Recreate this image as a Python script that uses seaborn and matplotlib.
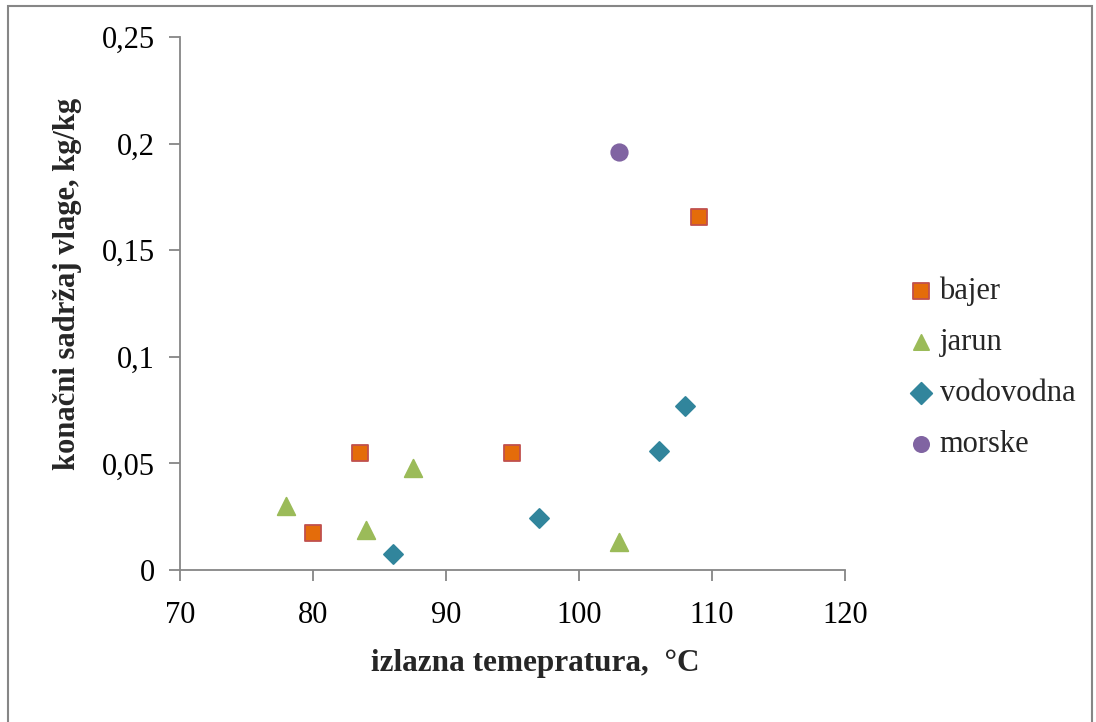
import matplotlib
matplotlib.use("Agg")
import matplotlib.pyplot as plt
import seaborn as sns
import pandas as pd
from matplotlib.patches import Rectangle

# values
bajer_x = [80, 83.5, 95, 109]
bajer_y = [0.0175, 0.055, 0.055, 0.1655]
jarun_x = [78, 84, 87.5, 103]
jarun_y = [0.030, 0.019, 0.048, 0.013]
vodovodna_x = [86, 97, 106, 108]
vodovodna_y = [0.0075, 0.0245, 0.0558, 0.0768]
morske_x = [103]
morske_y = [0.1962]

series = ["bajer", "jarun", "vodovodna", "morske"]
xs = [bajer_x, jarun_x, vodovodna_x, morske_x]
ys = [bajer_y, jarun_y, vodovodna_y, morske_y]

rows = []
for name, sx, sy in zip(series, xs, ys):
    for a, b in zip(sx, sy):
        rows.append({"temp": a, "vlaga": b, "uzorak": name})
data = pd.DataFrame(rows)

colors = {"bajer": "#E46C0A", "jarun": "#9BBB59", "vodovodna": "#31859C", "morske": "#8064A2"}
markers = {"bajer": "s", "jarun": "^", "vodovodna": "D", "morske": "o"}
edges = {"bajer": "#C0504D", "jarun": "#9BBB59", "vodovodna": "#31859C", "morske": "#8064A2"}
sizes = {"bajer": 120, "jarun": 160, "vodovodna": 95, "morske": 140}

sns.set_style("white")
plt.rcParams["font.family"] = ["Liberation Serif", "DejaVu Serif"]

fig = plt.figure(figsize=(10.96, 7.22), dpi=100)
ax = fig.add_axes([0.1642, 0.2105, 0.6068, 0.7383])

for name in series:
    sub = data[data["uzorak"] == name]
    sns.scatterplot(data=sub, x="temp", y="vlaga", marker=markers[name], color=colors[name],
                    edgecolor=edges[name], linewidth=1.3, s=sizes[name], label=name, ax=ax, zorder=3)

ax.set_xlim(70, 120)
ax.set_ylim(0, 0.25)
ax.set_xticks([70, 80, 90, 100, 110, 120])
ax.set_yticks([0, 0.05, 0.1, 0.15, 0.2, 0.25])
ax.set_yticklabels(["0", "0,05", "0,1", "0,15", "0,2", "0,25"])
ax.set_xticklabels(["70", "80", "90", "100", "110", "120"])

grey = "#868686"
sns.despine(ax=ax)
for s in ["left", "bottom"]:
    ax.spines[s].set_color(grey)
    ax.spines[s].set_linewidth(1.3)
ax.tick_params(axis="both", direction="out", length=8, width=1.3, color=grey,
               labelsize=22, labelcolor="black", bottom=True, left=True)
ax.tick_params(axis="x", pad=14)
ax.tick_params(axis="y", pad=10)

ax.set_xlabel("izlazna temepratura,  °C", fontsize=22.5, fontweight="bold", labelpad=14, x=0.534)
ax.set_ylabel("konačni sadržaj vlage, kg/kg", fontsize=22, fontweight="bold", labelpad=14, y=0.537)

leg = ax.legend(loc="center left", bbox_to_anchor=(0.826, 0.49), bbox_transform=fig.transFigure,
                frameon=False, fontsize=22, handlelength=1.0, handletextpad=0.12, labelspacing=0.72,
                borderaxespad=0, borderpad=0)
for h in leg.legend_handles:
    h.set_sizes([120])

fig.patches.append(Rectangle((8 / 1096, -0.1), 1084 / 1096, 1.1 - 6 / 722, transform=fig.transFigure,
                             fill=False, edgecolor=grey, linewidth=1.5))

fig.savefig("out.png", dpi=100)
